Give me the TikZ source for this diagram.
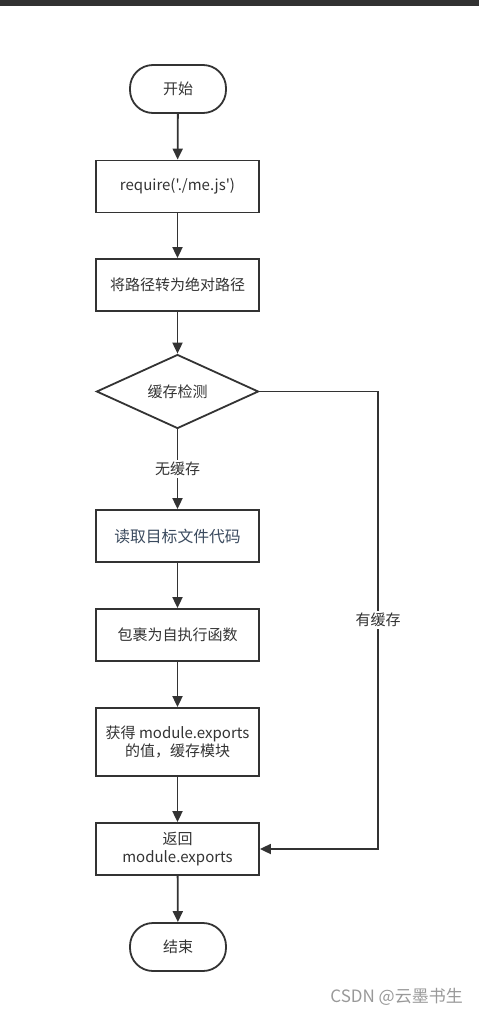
\documentclass[tikz,border=0pt]{standalone}
\usepackage{fontspec}
\newfontfamily\cjk{Noto Sans CJK SC}
\usetikzlibrary{shapes.geometric,arrows.meta}
\definecolor{ink}{HTML}{333333}
\definecolor{readink}{HTML}{3A4A5E}
\definecolor{wm}{HTML}{999999}
\definecolor{bar}{HTML}{323232}
\tikzset{
  base/.style={draw=ink, line width=1.8pt, text=ink, inner sep=0pt, align=center,
    font=\cjk\fontsize{15pt}{18pt}\selectfont},
  term/.style={base, rectangle, rounded corners=23pt, minimum width=96pt, minimum height=48pt},
  proc/.style={base, rectangle, minimum width=163pt, minimum height=52pt},
  decide/.style={base, diamond, minimum width=162pt, minimum height=67pt},
  conn/.style={draw=ink, line width=1.8pt, -{Triangle[length=11pt,width=10pt]}},
  lbl/.style={fill=white, text=ink, inner sep=2pt, font=\cjk\fontsize{15pt}{18pt}\selectfont}
}
\begin{document}
\begin{tikzpicture}[x=1pt,y=-1pt]
\useasboundingbox (0,0) rectangle (479,1015);
\fill[bar] (0,0) rectangle (479,6);
\node[term] (start) at (178,89) {开始};
\node[proc] (req) at (177.5,186.5) {require('./me.js')};
\node[proc] (abs) at (177.5,285) {将路径转为绝对路径};
\node[decide] (dia) at (177.5,391.5) {缓存检测};
\node[proc, text=readink, font=\cjk\fontsize{15.8pt}{20pt}\selectfont] (read) at (177.5,536) {读取目标文件代码};
\node[proc] (wrap) at (177.5,635) {包裹为自执行函数};
\node[proc, minimum height=68pt] (get) at (177.5,742) {获得 module.exports\\的值，缓存模块};
\node[proc] (ret) at (177.5,849) {返回\\module.exports};
\node[term] (end) at (178,947) {结束};
\coordinate (corner) at (378,391.5);
\coordinate (corner2) at (corner |- ret.east);
\draw[conn] (start) -- (req);
\draw[conn] (req) -- (abs);
\draw[conn] (abs) -- (dia);
\draw[conn] (dia) -- node[lbl] {无缓存} (read);
\draw[conn] (read) -- (wrap);
\draw[conn] (wrap) -- (get);
\draw[conn] (get) -- (ret);
\draw[conn] (ret) -- (end);
\draw[conn] (dia.east) -- (corner) -- node[lbl] {有缓存} (corner2) -- (ret.east);
\node[text=wm, anchor=east, inner sep=0pt, font=\cjk\fontsize{17pt}{20pt}\selectfont] (wmk) at (463,997) {CSDN @云墨书生};
\end{tikzpicture}
\end{document}
